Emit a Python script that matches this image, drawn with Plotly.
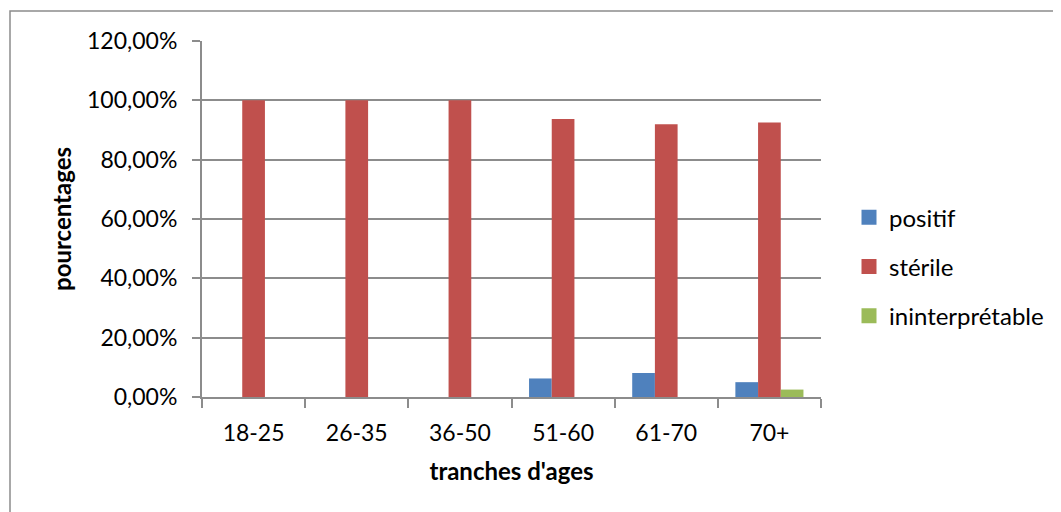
import plotly.graph_objects as go

categories = ["18-25", "26-35", "36-50", "51-60", "61-70", "70+"]
positif = [0, 0, 0, 0.0625, 0.081, 0.05]
sterile = [1.0, 1.0, 1.0, 0.9375, 0.919, 0.925]
ininterpretable = [0, 0, 0, 0, 0, 0.025]
series_names = ["positif", "stérile", "ininterprétable"]
colors = ["#4F81BD", "#C0504D", "#9BBB59"]
y_ticks = [0, 0.2, 0.4, 0.6, 0.8, 1.0, 1.2]

FONT = "Lato"
W, H = 1061, 512
L, R, T, B = 194, 248, 33, 122.5

fig = go.Figure()
for name, vals, col, grp in zip(series_names, [positif, sterile, ininterpretable], colors, ["a", "b", "c"]):
    fig.add_trace(go.Bar(x=categories, y=vals, name=name, marker=dict(color=col, line=dict(width=0)),
                         legendgroup=grp, showlegend=False))
for name, col, grp in zip(series_names, colors, ["a", "b", "c"]):
    fig.add_trace(go.Scatter(x=[None], y=[None], mode="markers", name=name, legendgroup=grp,
                             marker=dict(symbol="square", size=15, color=col, line=dict(width=0)),
                             showlegend=True, hoverinfo="skip"))

pw = W - L - R
ph = H - T - B
def px_x(p):
    return (p - L) / pw
def px_y(p):
    return (H - B - p) / ph

grid = "#8C8C8C"
fig.update_layout(
    width=W, height=H,
    margin=dict(l=L, r=R, t=T, b=B),
    paper_bgcolor="white", plot_bgcolor="white",
    separators=", ",
    barmode="group", bargap=0.34, bargroupgap=0,
    font=dict(family=FONT, size=23, color="black"),
    showlegend=True,
    legend=dict(x=px_x(841), y=px_y(259), xanchor="left", yanchor="middle", tracegroupgap=15,
                font=dict(family=FONT, size=24, color="black"), itemwidth=30),
    xaxis=dict(showline=True, linecolor=grid, linewidth=2, ticks="outside", tickson="boundaries",
               ticklen=9, tickcolor=grid, tickwidth=2, showgrid=False,
               tickfont=dict(size=23), ticklabelstandoff=14,
               title=dict(text="<b>tranches d'ages</b>", font=dict(size=24), standoff=19)),
    yaxis=dict(range=[0, 1.2], tickvals=y_ticks, tickformat=".2%", showline=True, linecolor=grid,
               linewidth=2, ticks="outside", ticklen=8, tickcolor=grid, tickwidth=2,
               showgrid=True, gridcolor=grid, gridwidth=2, zeroline=False,
               tickfont=dict(size=23), ticklabelstandoff=10,
               title=dict(text="<b>pourcentages</b>", font=dict(size=24), standoff=9)),
    shapes=[dict(type="rect", xref="paper", yref="paper", x0=px_x(2), x1=px_x(1060),
                 y0=px_y(530), y1=px_y(3), line=dict(color=grid, width=1.5), layer="below")],
)

fig.write_html("out.html")
